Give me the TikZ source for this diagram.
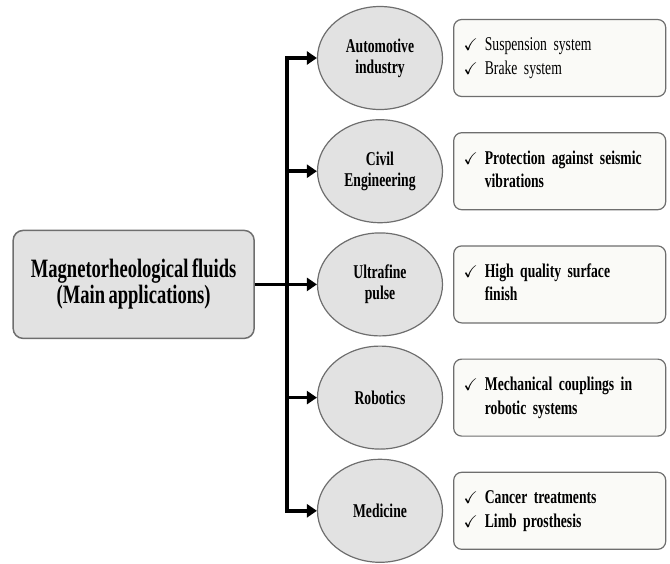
\documentclass[tikz,border=0pt]{standalone}
\usepackage{amssymb}
\usepackage{fontspec}
\setmainfont{Liberation Serif}[FakeStretch=0.7, WordSpace=0.75]
\usepackage{tikz}
\usetikzlibrary{shapes,arrows.meta,positioning}
\definecolor{nodegray}{HTML}{E2E2E2}
\definecolor{edgegray}{HTML}{6E6E6E}
\definecolor{notefill}{HTML}{FAFAF7}
\newcommand{\chk}{{\fontsize{17}{17}\selectfont$\checkmark$}}
\tikzset{
      mainbox/.style = {rectangle, rounded corners=10pt, draw=edgegray, line width=1.5pt, fill=nodegray,
                        minimum width=241pt, minimum height=108pt, align=center,
                        font=\bfseries\fontsize{26.5}{26}\selectfont},
      appnode/.style = {ellipse, draw=edgegray, line width=1.2pt, fill=nodegray, inner sep=0pt,
                        minimum width=125pt, minimum height=103pt, align=center,
                        font=\bfseries\fontsize{19.5}{21}\selectfont},
      notebox/.style = {rectangle, rounded corners=8pt, draw=edgegray, line width=1.2pt, fill=notefill,
                        inner xsep=10pt, text width=192pt, minimum height=77pt, align=left,
                        font=\fontsize{19.5}{23.5}\selectfont},
      boldnote/.style = {notebox, font=\bfseries\fontsize{19.5}{23.5}\selectfont},
      branch/.style  = {black, line width=3.5pt, -{Triangle[length=10pt,width=13pt]}},
    }

\begin{document}
\begin{tikzpicture}[x=1pt, y=-1pt,
        node distance=9pt,
        ]
        \useasboundingbox (0,0) rectangle (670,563);
        \node [appnode] (auto) at (380,58) {Automotive\\industry};
        \node [appnode, below=of auto] (civil) {Civil\\Engineering};
        \node [appnode, below=of civil] (ultra) {Ultrafine\\pulse};
        \node [appnode, below=of ultra] (robot) {Robotics};
        \node [appnode, below=of robot] (med) {Medicine};

        \node [mainbox, left=62pt of ultra] (mrf) {Magnetorheological fluids\\(Main applications)};

        \node [notebox, right=10pt of auto] (autonote) {%
          \begin{tabular}{@{}l@{\hspace{7pt}}l@{}}
            \chk & Suspension system\\
            \chk & Brake system
          \end{tabular}};
        \node [boldnote, right=10pt of civil] (civilnote) {%
          \begin{tabular}{@{}l@{\hspace{7pt}}l@{}}
            \chk & Protection against seismic\\
                 & vibrations
          \end{tabular}};
        \node [boldnote, right=10pt of ultra] (ultranote) {%
          \begin{tabular}{@{}l@{\hspace{7pt}}l@{}}
            \chk & High quality surface\\
                 & finish
          \end{tabular}};
        \node [boldnote, right=10pt of robot] (robotnote) {%
          \begin{tabular}{@{}l@{\hspace{7pt}}l@{}}
            \chk & Mechanical couplings in\\
                 & robotic systems
          \end{tabular}};
        \node [boldnote, right=10pt of med] (mednote) {%
          \begin{tabular}{@{}l@{\hspace{7pt}}l@{}}
            \chk & Cancer treatments\\
            \chk & Limb prosthesis
          \end{tabular}};

        \coordinate [right=32pt of mrf.east] (trunk);
        \draw [branch] (mrf.east) -- (ultra.west);
        \draw [branch] (trunk) |- (auto.west);
        \draw [branch] (trunk) |- (med.west);
        \draw [branch] (trunk |- civil.west) -- (civil.west);
        \draw [branch] (trunk |- robot.west) -- (robot.west);

\end{tikzpicture}
\end{document}
